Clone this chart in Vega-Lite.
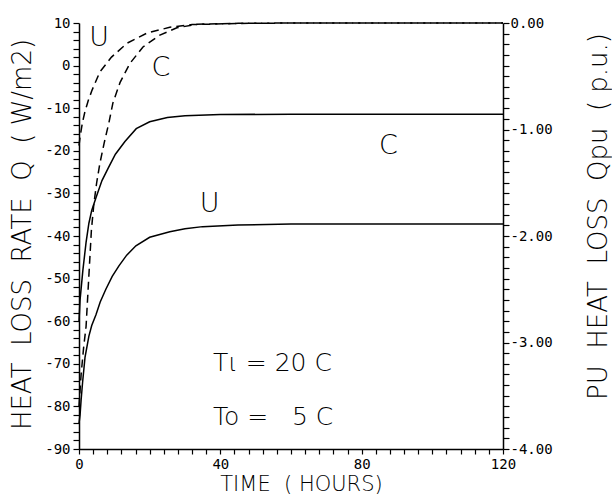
{
  "$schema": "https://vega.github.io/schema/vega-lite/v6.json",
  "width": 424,
  "height": 426,
  "autosize": {"type": "none"},
  "padding": {"left": 79, "top": 23, "right": 109, "bottom": 47},
  "background": "white",
  "config": {
    "view": {"stroke": null},
    "axis": {
      "grid": false,
      "domainColor": "black",
      "domainWidth": 1.5,
      "tickColor": "black",
      "tickWidth": 1.2,
      "labelColor": "black",
      "titleColor": "black",
      "labelFont": "DejaVu Sans Mono",
      "labelFontSize": 14,
      "titleFont": "DejaVu Sans",
      "titleFontWeight": 200,
      "titleFontSize": 26,
      "labelOverlap": false,
      "labelBound": false,
      "labelFlush": false
    }
  },
  "datasets": {
    "solid": [
      {"t": 0, "q": -60, "s": "C"}, {"t": 0.3, "q": -55, "s": "C"}, {"t": 1.1, "q": -48, "s": "C"},
      {"t": 2.0, "q": -41.5, "s": "C"}, {"t": 2.8, "q": -37, "s": "C"}, {"t": 3.6, "q": -34, "s": "C"},
      {"t": 4.8, "q": -31, "s": "C"}, {"t": 6.5, "q": -27, "s": "C"}, {"t": 8.3, "q": -24, "s": "C"},
      {"t": 10.3, "q": -20.8, "s": "C"}, {"t": 13, "q": -17.8, "s": "C"}, {"t": 16.2, "q": -14.8, "s": "C"},
      {"t": 20, "q": -13.2, "s": "C"}, {"t": 25, "q": -12.2, "s": "C"}, {"t": 30, "q": -11.8, "s": "C"},
      {"t": 40, "q": -11.5, "s": "C"}, {"t": 60, "q": -11.4, "s": "C"}, {"t": 120, "q": -11.4, "s": "C"},
      {"t": 0, "q": -84, "s": "U"}, {"t": 0.3, "q": -82, "s": "U"}, {"t": 0.6, "q": -78.5, "s": "U"},
      {"t": 1.0, "q": -74.5, "s": "U"}, {"t": 1.7, "q": -68.5, "s": "U"}, {"t": 2.8, "q": -63.5, "s": "U"},
      {"t": 3.6, "q": -61, "s": "U"}, {"t": 4.8, "q": -58.5, "s": "U"}, {"t": 6, "q": -55.5, "s": "U"},
      {"t": 7.6, "q": -52.5, "s": "U"}, {"t": 9.4, "q": -49.5, "s": "U"}, {"t": 11.3, "q": -47, "s": "U"},
      {"t": 13.5, "q": -44.5, "s": "U"}, {"t": 16.1, "q": -42.3, "s": "U"}, {"t": 20, "q": -40.3, "s": "U"},
      {"t": 25.7, "q": -39, "s": "U"}, {"t": 30, "q": -38.3, "s": "U"}, {"t": 35, "q": -37.8, "s": "U"},
      {"t": 45, "q": -37.4, "s": "U"}, {"t": 60, "q": -37.2, "s": "U"}, {"t": 120, "q": -37.2, "s": "U"}
    ],
    "dashed": [
      {"t": 0, "p": -1.15, "s": "U"}, {"t": 0.3, "p": -1.07, "s": "U"}, {"t": 1.0, "p": -0.93, "s": "U"},
      {"t": 1.7, "p": -0.83, "s": "U"}, {"t": 2.6, "p": -0.73, "s": "U"}, {"t": 3.7, "p": -0.63, "s": "U"},
      {"t": 5.9, "p": -0.46, "s": "U"}, {"t": 9.2, "p": -0.32, "s": "U"}, {"t": 13.6, "p": -0.19, "s": "U"},
      {"t": 19.2, "p": -0.095, "s": "U"}, {"t": 25.7, "p": -0.04, "s": "U"}, {"t": 32, "p": -0.015, "s": "U"},
      {"t": 45, "p": -0.004, "s": "U"}, {"t": 60, "p": 0, "s": "U"}, {"t": 120, "p": 0, "s": "U"},
      {"t": 0, "p": -3.6, "s": "C"}, {"t": 0.6, "p": -3.3, "s": "C"}, {"t": 1.3, "p": -3.05, "s": "C"},
      {"t": 2.0, "p": -2.85, "s": "C"}, {"t": 2.5, "p": -2.55, "s": "C"}, {"t": 3.0, "p": -2.25, "s": "C"},
      {"t": 3.5, "p": -1.95, "s": "C"}, {"t": 4.2, "p": -1.7, "s": "C"}, {"t": 5.0, "p": -1.5, "s": "C"},
      {"t": 5.9, "p": -1.32, "s": "C"}, {"t": 7.1, "p": -1.13, "s": "C"}, {"t": 8.5, "p": -0.93, "s": "C"},
      {"t": 9.6, "p": -0.75, "s": "C"}, {"t": 11.6, "p": -0.56, "s": "C"}, {"t": 14.4, "p": -0.38, "s": "C"},
      {"t": 18.1, "p": -0.225, "s": "C"}, {"t": 22.9, "p": -0.113, "s": "C"}, {"t": 27.7, "p": -0.045, "s": "C"},
      {"t": 33.4, "p": -0.012, "s": "C"}, {"t": 45, "p": -0.003, "s": "C"}, {"t": 60, "p": 0, "s": "C"},
      {"t": 120, "p": 0, "s": "C"}
    ],
    "labels": [
      {"t": 5.7, "q": 6.5, "txt": "U"},
      {"t": 23.2, "q": -0.6, "txt": "C"},
      {"t": 87.6, "q": -18.9, "txt": "C"},
      {"t": 37, "q": -32.5, "txt": "U"}
    ],
    "notes": [
      {"t": 37.9, "q": -69.8, "txt": "Tι = 20 C"},
      {"t": 37.9, "q": -82.5, "txt": "To = \u20075 C"}
    ]
  },
  "layer": [
    {
      "data": {"name": "solid"},
      "mark": {"type": "line", "color": "black", "strokeWidth": 1.5},
      "encoding": {
        "x": {
          "field": "t", "type": "quantitative",
          "scale": {"domain": [0, 120], "nice": false, "zero": false},
          "axis": {
            "values": [0, 4, 8, 12, 16, 20, 24, 28, 32, 36, 40, 44, 48, 52, 56, 60, 64, 68, 72, 76, 80, 84, 88, 92, 96, 100, 104, 108, 112, 116, 120],
            "tickCount": 500,
            "labelExpr": "datum.value % 40 === 0 ? format(datum.value, 'd') : ''",
            "labelOverlap": false,
            "tickSize": 5,
            "labelPadding": 3,
            "title": "TIME\u00a0 (\u00a0HOURS)",
            "titleFontSize": 21,
            "titleX": 222,
            "titleY": 41,
            "titleAlign": "center",
            "titleBaseline": "alphabetic"
          }
        },
        "y": {
          "field": "q", "type": "quantitative",
          "scale": {"domain": [-90, 10], "nice": false, "zero": false},
          "axis": {
            "orient": "left",
            "values": [-90, -88, -86, -84, -82, -80, -78, -76, -74, -72, -70, -68, -66, -64, -62, -60, -58, -56, -54, -52, -50, -48, -46, -44, -42, -40, -38, -36, -34, -32, -30, -28, -26, -24, -22, -20, -18, -16, -14, -12, -10, -8, -6, -4, -2, 0, 2, 4, 6, 8, 10],
            "tickCount": 500,
            "labelExpr": "datum.value % 10 === 0 ? (datum.value < 0 ? '-' + format(-datum.value, 'd') : format(datum.value, 'd')) : ''",
            "labelOverlap": false,
            "tickSize": 6,
            "labelPadding": 3,
            "title": "HEAT\u00a0 LOSS\u00a0 RATE\u00a0 Q\u00a0 (\u00a0W/m2)",
            "titleAngle": -90,
            "titleX": -57,
            "titleY": 211,
            "titleAlign": "center",
            "titleBaseline": "middle"
          }
        },
        "detail": {"field": "s"}
      }
    },
    {
      "data": {"name": "labels"},
      "mark": {"type": "text", "font": "DejaVu Sans", "fontWeight": 200, "fontSize": 27, "align": "center", "baseline": "middle", "color": "black"},
      "encoding": {
        "x": {"field": "t", "type": "quantitative"},
        "y": {"field": "q", "type": "quantitative", "scale": {"domain": [-90, 10], "nice": false, "zero": false}, "axis": null},
        "text": {"field": "txt"}
      }
    },
    {
      "data": {"name": "notes"},
      "mark": {"type": "text", "font": "DejaVu Sans", "fontWeight": 200, "fontSize": 25, "align": "left", "baseline": "middle", "color": "black"},
      "encoding": {
        "x": {"field": "t", "type": "quantitative"},
        "y": {"field": "q", "type": "quantitative", "scale": {"domain": [-90, 10], "nice": false, "zero": false}, "axis": null},
        "text": {"field": "txt"}
      }
    },
    {
      "data": {"name": "dashed"},
      "mark": {"type": "line", "color": "black", "strokeWidth": 1.5, "strokeDash": [8, 5]},
      "encoding": {
        "x": {"field": "t", "type": "quantitative"},
        "y": {
          "field": "p", "type": "quantitative",
          "scale": {"domain": [-4, 0], "nice": false, "zero": false},
          "axis": {
            "orient": "right",
            "values": [-4, -3.9, -3.8, -3.7, -3.6, -3.5, -3.4, -3.3, -3.2, -3.1, -3, -2.9, -2.8, -2.7, -2.6, -2.5, -2.4, -2.3, -2.2, -2.1, -2, -1.9, -1.8, -1.7, -1.6, -1.5, -1.4, -1.3, -1.2, -1.1, -1, -0.9, -0.8, -0.7, -0.6, -0.5, -0.4, -0.3, -0.2, -0.1, 0],
            "tickCount": 500,
            "labelExpr": "abs(datum.value - round(datum.value)) < 0.001 ? (datum.value < 0 ? '-' + format(-datum.value, '.2f') : format(abs(datum.value), '.2f')) : ''",
            "labelOverlap": false,
            "tickSize": 6,
            "labelPadding": 1,
            "title": "PU\u00a0 HEAT\u00a0 LOSS\u00a0 Qpu\u00a0 (\u00a0p.u.)",
            "titleAngle": -90,
            "titleX": 95,
            "titleY": 193,
            "titleAlign": "center",
            "titleBaseline": "middle"
          }
        },
        "detail": {"field": "s"}
      }
    }
  ],
  "resolve": {"scale": {"y": "independent"}, "axis": {"y": "independent"}}
}
